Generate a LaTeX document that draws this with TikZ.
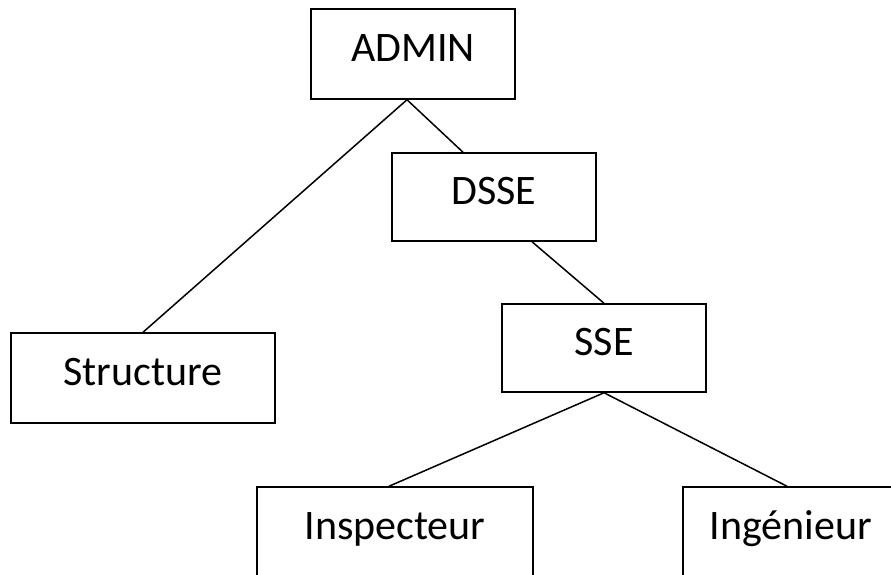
\documentclass[tikz,border=0pt]{standalone}
\usepackage{fontspec}
\setmainfont{Carlito}
\usepackage{tikz}
\usetikzlibrary{calc}

\begin{document}
\begin{tikzpicture}[
    x=1pt, y=-1pt,
    unit/.style={
        rectangle, draw=black, line width=1.5pt,
        inner sep=0pt, minimum height=90pt,
        text height=27pt, text depth=12pt,
        font=\fontsize{42}{50}\selectfont
    },
    link/.style={
        line width=1.5pt, draw=black
    }
]
\fill[white] (0,0) rectangle (891,574);
\useasboundingbox (0,0) rectangle (891,574);

% Main components
\node[unit, minimum width=204pt] (admin) at (413, 54) {ADMIN};
\node[unit, minimum width=204pt, minimum height=88pt] (dsse) at (494, 197) {DSSE};
\node[unit, minimum width=264pt] (structure) at (143, 378) {Structure};
\node[unit, minimum width=204pt, minimum height=88pt] (sse) at (604, 348) {SSE};
\node[unit, minimum width=276pt] (inspecteur) at (395, 532) {Inspecteur};
\node[unit, minimum width=216pt] (ingenieur) at (791, 532) {Ingénieur};

% Lines
\draw[link] ($(admin.south)+(-6,0)$) -- (structure.north);
\draw[link] ($(admin.south)+(-6,0)$) -- ($(dsse.north)+(-31,0)$);
\draw[link] ($(dsse.south)+(38,0)$) -- (sse.north);
\draw[link] (sse.south) -- ($(inspecteur.north)+(-6,0)$);
\draw[link] (sse.south) -- ($(ingenieur.north)+(-4,0)$);

\end{tikzpicture}
\end{document}
